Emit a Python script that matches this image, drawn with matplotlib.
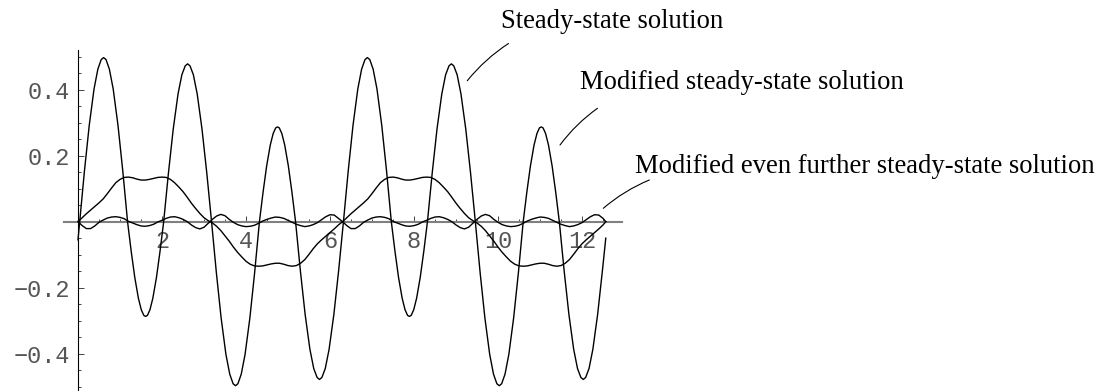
import numpy as np
import matplotlib
matplotlib.use("Agg")
from matplotlib import pyplot as plt
from matplotlib.ticker import MultipleLocator, FixedLocator

# steady-state solution, sampled along each half-wave
steady_t = [
    0.0,
    0.04, 0.154, 0.268, 0.382, 0.473, 0.553, 0.61, 0.667, 0.747, 0.838, 0.952, 1.066,
    1.18, 1.266, 1.352, 1.438, 1.507, 1.567, 1.61, 1.653, 1.713, 1.782, 1.868, 1.954,
    2.04, 2.154, 2.268, 2.382, 2.473, 2.553, 2.61, 2.667, 2.747, 2.838, 2.952, 3.066,
    3.18, 3.294, 3.408, 3.522, 3.613, 3.693, 3.75, 3.807, 3.887, 3.978, 4.092, 4.206,
    4.32, 4.406, 4.492, 4.578, 4.647, 4.707, 4.75, 4.793, 4.853, 4.922, 5.008, 5.094,
    5.18, 5.294, 5.408, 5.522, 5.613, 5.693, 5.75, 5.807, 5.887, 5.978, 6.092, 6.206,
    6.32, 6.434, 6.548, 6.662, 6.753, 6.833, 6.89, 6.947, 7.027, 7.118, 7.232, 7.346,
    7.46, 7.546, 7.632, 7.718, 7.787, 7.847, 7.89, 7.933, 7.993, 8.062, 8.148, 8.234,
    8.32, 8.434, 8.548, 8.662, 8.753, 8.833, 8.89, 8.947, 9.027, 9.118, 9.232, 9.346,
    9.46, 9.574, 9.688, 9.802, 9.893, 9.973, 10.03, 10.087, 10.167, 10.258, 10.372, 10.486,
    10.6, 10.686, 10.772, 10.858, 10.927, 10.987, 11.03, 11.073, 11.133, 11.202, 11.288, 11.374,
    11.46, 11.574, 11.688, 11.802, 11.893, 11.973, 12.03, 12.087, 12.167, 12.258, 12.372, 12.486,
    12.566,
]
steady_y = [
    -0.055,
    0, 0.154, 0.292, 0.402, 0.462, 0.491, 0.497, 0.491, 0.462, 0.402, 0.292, 0.154,
    0, -0.089, -0.169, -0.232, -0.267, -0.284, -0.287, -0.284, -0.267, -0.232, -0.169, -0.089,
    0, 0.148, 0.281, 0.387, 0.445, 0.472, 0.478, 0.472, 0.445, 0.387, 0.281, 0.148,
    0, -0.154, -0.292, -0.402, -0.462, -0.491, -0.497, -0.491, -0.462, -0.402, -0.292, -0.154,
    0, 0.089, 0.169, 0.232, 0.267, 0.284, 0.287, 0.284, 0.267, 0.232, 0.169, 0.089,
    0, -0.148, -0.281, -0.387, -0.445, -0.472, -0.478, -0.472, -0.445, -0.387, -0.281, -0.148,
    0, 0.154, 0.292, 0.402, 0.462, 0.491, 0.497, 0.491, 0.462, 0.402, 0.292, 0.154,
    0, -0.089, -0.169, -0.232, -0.267, -0.284, -0.287, -0.284, -0.267, -0.232, -0.169, -0.089,
    0, 0.148, 0.281, 0.387, 0.445, 0.472, 0.478, 0.472, 0.445, 0.387, 0.281, 0.148,
    0, -0.154, -0.292, -0.402, -0.462, -0.491, -0.497, -0.491, -0.462, -0.402, -0.292, -0.154,
    0, 0.089, 0.169, 0.232, 0.267, 0.284, 0.287, 0.284, 0.267, 0.232, 0.169, 0.089,
    0, -0.148, -0.281, -0.387, -0.445, -0.472, -0.478, -0.472, -0.445, -0.387, -0.281, -0.148,
    -0.05,
]

# the two modified solutions share one time grid (step 0.1, up to 4 pi)
grid_t = list(np.round(np.arange(0, 12.55, 0.1), 1)) + [12.566]

modified_y = [
    0, .012, .024, .035, .046, .057, .069, .085, .102, .118,
    .128, .134, .135, .133, .129, .126, .126, .128, .131, .134,
    .135, .134, .128, .118, .105, .091, .074, .056, .040, .025,
    .012, .003, -.004, -.014, -.027, -.043, -.059, -.077, -.093, -.107,
    -.120, -.129, -.134, -.135, -.134, -.131, -.128, -.126, -.126, -.129,
    -.133, -.135, -.133, -.126, -.115, -.099, -.082, -.067, -.055, -.044,
    -.033, -.022, -.010,
    0, .012, .024, .035, .046, .057, .069, .085, .102, .118,
    .128, .134, .135, .133, .129, .126, .126, .128, .131, .134,
    .135, .134, .128, .118, .105, .091, .074, .056, .040, .025,
    .012, .003, -.004, -.014, -.027, -.043, -.059, -.077, -.093, -.107,
    -.120, -.129, -.134, -.135, -.134, -.131, -.128, -.126, -.126, -.129,
    -.133, -.135, -.133, -.126, -.115, -.099, -.082, -.067, -.055, -.044,
    -.033, -.022, -.010,
    0,
]

further_y = [
    0, -.012, -.021, -.021, -.013, -.002, .005, .011, .014, .015,
    .013, .009, .001, -.004, -.009, -.013, -.014, -.012, -.008, -.001,
    .004, .010, .014, .015, .012, .007, .000, -.010, -.018, -.022,
    -.017, -.005, .007, .017, .022, .018, .007, -.002, -.009, -.013,
    -.015, -.014, -.011, -.005, .002, .007, .011, .014, .013, .010,
    .004, -.002, -.008, -.012, -.015, -.013, -.009, -.003, .006, .015,
    .021, .020, .010,
    0, -.012, -.021, -.021, -.013, -.002, .005, .011, .014, .015,
    .013, .009, .001, -.004, -.009, -.013, -.014, -.012, -.008, -.001,
    .004, .010, .014, .015, .012, .007, .000, -.010, -.018, -.022,
    -.017, -.005, .007, .017, .022, .018, .007, -.002, -.009, -.013,
    -.015, -.014, -.011, -.005, .002, .007, .011, .014, .013, .010,
    .004, -.002, -.008, -.012, -.015, -.013, -.009, -.003, .006, .015,
    .021, .020, .010,
    0,
]

labels = ["Steady-state solution",
          "Modified steady-state solution",
          "Modified even further steady-state solution"]

x_ticks = [2, 4, 6, 8, 10, 12]
y_ticks = [-0.4, -0.2, 0.2, 0.4]
y_tick_labels = ["\u22120.4", "\u22120.2", "0.2", "0.4"]

W, H = 1107, 391


def main():
    fig = plt.figure(figsize=(W / 100, H / 100), dpi=100)
    ax = fig.add_axes([64.3 / W, 0, 557.4 / W, 341 / H])
    ax.set_xlim(-0.326, 12.945)
    ax.set_ylim(-0.513, 0.520)

    ax.plot(steady_t, steady_y, color="black", lw=1.0, zorder=3)
    ax.plot(grid_t, modified_y, color="black", lw=1.0, zorder=3)
    ax.plot(grid_t, further_y, color="black", lw=1.0, zorder=3)

    # axes through the origin, Mathematica style
    ax.spines["top"].set_visible(False)
    ax.spines["right"].set_visible(False)
    ax.spines["left"].set_position(("data", 0))
    ax.spines["bottom"].set_position(("data", 0))
    ax.spines["left"].set_linewidth(0.8)
    ax.spines["bottom"].set_color("#808080")
    ax.spines["bottom"].set_linewidth(1.5)

    ax.xaxis.set_major_locator(FixedLocator(x_ticks))
    ax.xaxis.set_minor_locator(MultipleLocator(0.5))
    ax.yaxis.set_major_locator(FixedLocator(y_ticks))
    ax.yaxis.set_minor_locator(MultipleLocator(0.05))
    ax.set_xticklabels([str(t) for t in x_ticks])
    ax.set_yticklabels(y_tick_labels)

    ax.tick_params(which="both", direction="in", colors="#444444",
                   labelsize=17, width=0.7)
    ax.tick_params(which="major", length=4)
    ax.tick_params(which="minor", length=2.2)
    ax.tick_params(axis="x", pad=6)
    ax.tick_params(axis="y", pad=6)
    for lab in ax.get_xticklabels() + ax.get_yticklabels():
        lab.set_family("Liberation Mono")
        lab.set_color("#555555")

    # labels with leader lines (pixel positions measured from the top)
    spots = [(500.7, 28.3), (580, 89.3), (635, 173.3)]
    leaders = [((508.5, 43.5), (467.3, 80.7)),
               ((597.5, 108.3), (560, 145)),
               ((649.3, 180), (603.3, 208.3))]
    for text, (x, y), (p, q) in zip(labels, spots, leaders):
        fig.text(x / W, 1 - y / H, text, family="Liberation Serif",
                 fontsize=19.2, va="baseline", ha="left")
        ax.annotate("", xy=(q[0], H - q[1]), xycoords="figure pixels",
                    xytext=(p[0], H - p[1]), textcoords="figure pixels",
                    arrowprops=dict(arrowstyle="-", lw=0.8, shrinkA=0, shrinkB=0,
                                    connectionstyle="arc3,rad=0.08"))

    fig.savefig("out.png", dpi=100)


if __name__ == '__main__':
    main()
